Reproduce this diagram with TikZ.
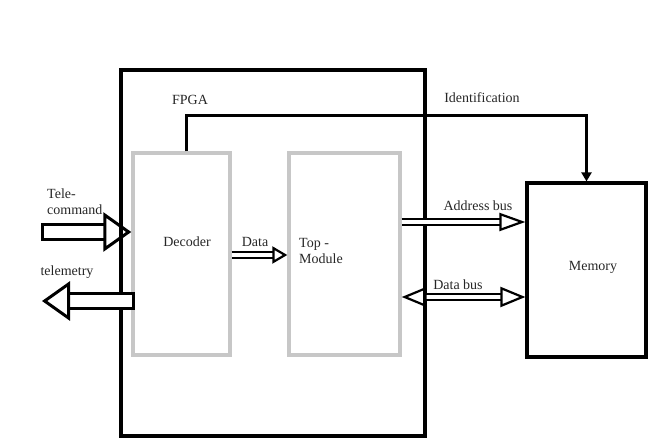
\documentclass[tikz,border=0pt]{standalone}
\usepackage{fontspec}
\setmainfont{Liberation Serif}
\usetikzlibrary{arrows.meta,positioning,calc}

\begin{document}
\begin{tikzpicture}[x=1pt, y=-1pt,
  font=\fontsize{14}{16}\selectfont,
  txt/.style={text=black!85, inner sep=0pt},
  blackbox/.style={draw, line width=3.2pt, inner sep=0pt},
  graybox/.style={draw=black!22, line width=3.4pt, inner sep=0pt},
  bigarrow/.style={double, double distance=12pt, line width=3pt, -{Triangle[open, length=28pt, width=39pt]}},
  tailbar/.style={line width=3pt},
  busarrow/.style={double, double distance=4pt, line width=2.2pt, -{Triangle[open, length=26pt, width=18pt]}},
  idline/.style={line width=2.6pt, -{Triangle[length=9pt, width=10pt]}}
]
\useasboundingbox (0,0) rectangle (648,438);

% Boxes
\node[blackbox, minimum width=304pt, minimum height=366pt] (fpga) at (273,253) {};
\node[graybox, minimum width=97pt, minimum height=202pt] (dec) at (181.5,254) {};
\node[graybox, minimum width=111pt, minimum height=202pt] (top) at (344.5,254) {};
\node[blackbox, minimum width=119pt, minimum height=174pt] (mem) at (586.5,270) {};

% Labels
\node[txt] (fpgalbl) at (190,100) {FPGA};
\node[txt] (declbl) at ([shift={(5.5,-12)}]dec.center) {Decoder};
\node[txt, align=left, anchor=west] (toplbl) at (299,251) {Top -\\Module};
\node[txt] (memlbl) at (593,267) {Memory};

% Identification
\draw[idline] ([xshift=5pt]dec.north) -- ++(0,-36) -| (mem.north);
\node[txt] (idlbl) at (482,98) {Identification};

% Tele-command / telemetry
\coordinate (tc) at (42,232);
\coordinate (tm) at (42,301);
\coordinate (tmtail) at ([xshift=2pt]dec.west |- tm);
\draw[bigarrow] (tc) -- (tc -| dec.west);
\draw[tailbar] ([yshift=-9pt]tc) -- ([yshift=9pt]tc);
\draw[bigarrow] (tmtail) -- (tm);
\draw[tailbar] ([yshift=-9pt]tmtail) -- ([yshift=9pt]tmtail);
\node[txt, align=left, anchor=west] (tclbl) at (47,202) {Tele-\\command};
\node[txt] (tmlbl) at (67,272) {telemetry};

% Data
\coordinate (dy) at (0,255);
\draw[busarrow, -{Triangle[open, length=15pt, width=17pt]}] (dec.east |- dy) -- (top.west |- dy);
\node[txt] (datalbl) at (255,242) {Data};

% Buses
\coordinate (ay) at (0,222);
\coordinate (by) at (0,297);
\draw[busarrow] (top.east |- ay) -- (mem.west |- ay);
\draw[busarrow, {Triangle[open, length=25pt, width=20pt]}-{Triangle[open, length=25pt, width=20pt]}] (top.east |- by) -- (mem.west |- by);
\node[txt] (addrlbl) at (478,206) {Address bus};
\node[txt] (dbuslbl) at (458,285) {Data bus};

\end{tikzpicture}
\end{document}
